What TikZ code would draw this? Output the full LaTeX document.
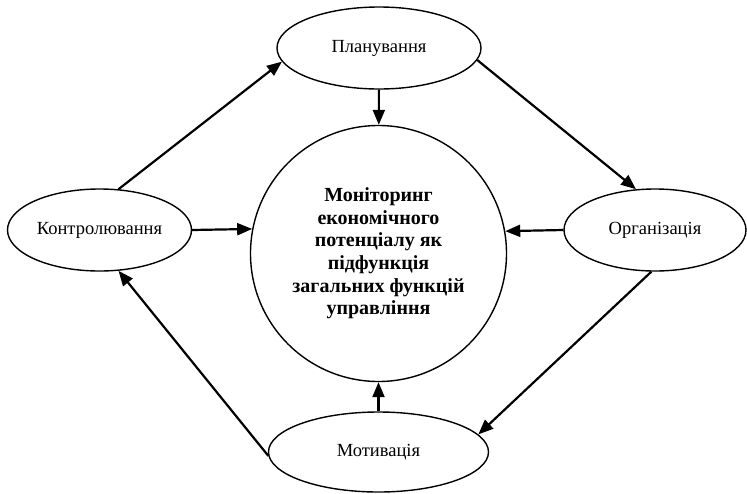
\documentclass[tikz,border=0pt]{standalone}
\usepackage{fontspec}
\setmainfont{Liberation Serif}
\usetikzlibrary{arrows.meta,shapes.geometric}
\begin{document}
\begin{tikzpicture}[x=1pt,y=-1pt,
  func/.style={draw, line width=1.4pt, ellipse, inner sep=0pt,
    font=\fontsize{18.5}{21}\selectfont},
  link/.style={line width=2.2pt, -{Triangle[length=15pt,width=12pt]}}]
\useasboundingbox (0,0) rectangle (747,493);

% centre circle
\node[draw, line width=1.4pt, circle, minimum size=256pt, inner sep=0pt,
  align=center, font=\bfseries\fontsize{20}{22.6}\selectfont]
  (mon) at (378.5,253.5)
  {Моніторинг\\економічного\\потенціалу як\\підфункція\\загальних функцій\\управління};

% management functions
\node[func, minimum width=204pt, minimum height=82pt] (pl) at (379,48) {Планування};
\node[func, minimum width=184pt, minimum height=82pt] (kon) at (99.5,230) {Контролювання};
\node[func, minimum width=182pt, minimum height=82pt] (org) at (655,230) {Організація};
\node[func, minimum width=220pt, minimum height=80pt] (mot) at (378.5,452) {Мотивація};

% arrows into the centre (the side ones run level with the side ellipses)
\draw[link] (pl) -- (mon);
\draw[link] (kon.east) -- (mon.169.4);
\draw[link] (org.west) -- (mon.10.6);
\draw[link] (mot) -- (mon);

% cycle around the centre
\draw[link] (kon.65) -- (pl.188);
\draw[link] (pl.-7) -- (org.115);
\draw[link] (org.265) -- (mot.10);
\draw[link] (mot.182) -- (kon.-65);
\end{tikzpicture}
\end{document}
